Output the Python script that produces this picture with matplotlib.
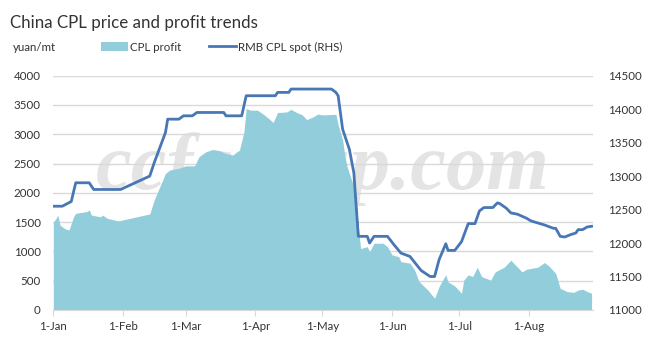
import pandas as pd
import matplotlib.pyplot as plt
from matplotlib.patches import Patch
from matplotlib.lines import Line2D

plt.rcParams['font.family'] = ['Lato', 'DejaVu Sans']

# CPL profit (yuan/mt, left axis)
profit_dates = ['01-01', '01-02', '01-03', '01-04', '01-06', '01-08', '01-09', '01-10', '01-11',
                '01-16', '01-17', '01-18', '01-22', '01-23', '01-25', '01-30', '02-13', '02-15',
                '02-20', '02-22', '02-26', '03-01', '03-05', '03-07', '03-10', '03-13', '03-16',
                '03-19', '03-22', '03-25', '03-27', '03-28', '03-30', '04-02', '04-04', '04-07',
                '04-09', '04-11', '04-15', '04-17', '04-19', '04-22', '04-24', '04-27', '04-29',
                '05-01', '05-07', '05-08', '05-10', '05-11', '05-12', '05-15', '05-16', '05-17',
                '05-18', '05-21', '05-22', '05-24', '05-28', '05-30', '06-01', '06-04', '06-05',
                '06-09', '06-11', '06-13', '06-17', '06-20', '06-22', '06-24', '06-25', '06-26',
                '06-29', '07-02', '07-03', '07-05', '07-07', '07-09', '07-11', '07-15', '07-17',
                '07-21', '07-24', '07-26', '07-29', '07-31', '08-02', '08-05', '08-08', '08-10',
                '08-13', '08-15', '08-18', '08-21', '08-23', '08-25', '08-27', '08-29']
profit = [1500, 1550, 1620, 1450, 1390, 1365, 1480, 1590, 1650,
          1680, 1710, 1620, 1590, 1620, 1565, 1520, 1640, 1880,
          2330, 2390, 2420, 2460, 2460, 2620, 2700, 2740, 2720,
          2670, 2645, 2730, 3040, 3440, 3410, 3410, 3360, 3270,
          3200, 3370, 3380, 3425, 3380, 3330, 3250, 3300, 3345,
          3330, 3340, 3160, 2900, 2620, 2445, 2100, 1880, 1420,
          1050, 1080, 995, 1140, 1140, 1080, 940, 910, 825,
          800, 690, 490, 340, 200, 400, 540, 600, 480,
          410, 285, 510, 600, 570, 730, 570, 510, 650,
          730, 850, 770, 650, 695, 710, 730, 810, 750,
          625, 370, 315, 300, 340, 355, 315, 285]

# RMB CPL spot price (yuan/mt, right axis)
price_dates = ['01-01', '01-05', '01-09', '01-11', '01-17', '01-19', '01-31', '02-13', '02-15',
               '02-20', '02-21', '02-26', '02-28', '03-04', '03-06', '03-18', '03-19', '03-26',
               '03-28', '04-10', '04-11', '04-16', '04-17', '05-05', '05-07', '05-08', '05-10',
               '05-13', '05-15', '05-17', '05-21', '05-22', '05-24', '05-30', '06-02', '06-05',
               '06-09', '06-14', '06-18', '06-20', '06-22', '06-25', '06-26', '06-29', '07-02',
               '07-05', '07-08', '07-10', '07-12', '07-16', '07-18', '07-19', '07-22', '07-24',
               '07-27', '07-31', '08-02', '08-05', '08-08', '08-12', '08-13', '08-15', '08-17',
               '08-20', '08-22', '08-23', '08-25', '08-27', '08-29']
price = [12550, 12550, 12620, 12900, 12900, 12800, 12800, 13000, 13200,
         13650, 13850, 13850, 13900, 13900, 13950, 13950, 13900, 13900,
         14200, 14200, 14250, 14250, 14300, 14300, 14250, 14200, 13700,
         13400, 13050, 12100, 12100, 12000, 12100, 12100, 11970, 11850,
         11800, 11590, 11500, 11500, 11750, 11990, 11890, 11890, 12020,
         12290, 12290, 12480, 12530, 12530, 12600, 12590, 12520, 12450,
         12430, 12370, 12330, 12300, 12270, 12220, 12220, 12100, 12090,
         12130, 12150, 12200, 12200, 12240, 12250]

month_ticks = ['01-01', '02-01', '03-01', '04-01', '05-01', '06-01', '07-01', '08-01']
month_labels = ['1-Jan', '1-Feb', '1-Mar', '1-Apr', '1-May', '1-Jun', '1-Jul', '1-Aug']

year = '2019-'
pd_profit = pd.to_datetime([year + d for d in profit_dates])
pd_price = pd.to_datetime([year + d for d in price_dates])
ticks = pd.to_datetime([year + d for d in month_ticks])

fig = plt.figure(figsize=(6.59, 3.54), dpi=100)
ax = fig.add_axes([0.0809, 0.1243, 0.8185, 0.662])
ax2 = ax.twinx()

fill_c = '#92cddc'
line_c = '#4777b4'
grid_c = '#d9d9d9'
text_c = '#333333'

# watermark sits behind the area
ax.text(0.5, 0.6, 'ccfgroup.com', transform=ax.transAxes, ha='center', va='center',
        fontsize=58, family='Liberation Serif', style='italic', weight='bold',
        color='#e4e4e4', zorder=0.5)

ax.fill_between(pd_profit, profit, 0, color=fill_c, lw=0, zorder=2)
ax2.plot(pd_price, price, color=line_c, lw=2.0, solid_joinstyle='round')

start = pd.Timestamp('2019-01-01')
ax.set_xlim(start, start + pd.Timedelta(days=240.5))
ax.set_ylim(0, 4000)
ax2.set_ylim(11000, 14500)
ax.set_yticks(range(0, 4001, 500))
ax2.set_yticks(range(11000, 14501, 500))
ax.set_xticks(ticks)
ax.set_xticklabels(month_labels)

ax.set_axisbelow(True)
ax.yaxis.grid(True, color=grid_c, lw=1)
for a in (ax, ax2):
    for s in ('top', 'left', 'right'):
        a.spines[s].set_visible(False)
ax2.spines['bottom'].set_visible(False)
ax.spines['bottom'].set_color(grid_c)

ax.tick_params(axis='y', length=0, pad=9, labelsize=8.3, labelcolor=text_c)
ax2.tick_params(axis='y', length=0, pad=11, labelsize=8.3, labelcolor=text_c)
ax.tick_params(axis='x', length=4, color=grid_c, pad=4, labelsize=8.3, labelcolor=text_c)

fig.text(0.015, 0.935, 'China CPL price and profit trends', fontsize=12.2, color=text_c,
         va='center', ha='left')
fig.text(0.02, 0.867, 'yuan/mt', fontsize=8.3, color=text_c, va='center', ha='left')

handles = [Patch(facecolor=fill_c, edgecolor='none'),
           Line2D([0], [0], color=line_c, lw=2.0)]
fig.legend(handles, ['CPL profit', 'RMB CPL spot (RHS)'], loc='center left',
           bbox_to_anchor=(0.138, 0.867), ncol=2, frameon=False, fontsize=8.3,
           handlelength=2.3, handletextpad=0.2, columnspacing=2.4, handleheight=0.9)
for t in fig.legends[0].get_texts():
    t.set_color(text_c)

fig.savefig('out.png', dpi=100)
